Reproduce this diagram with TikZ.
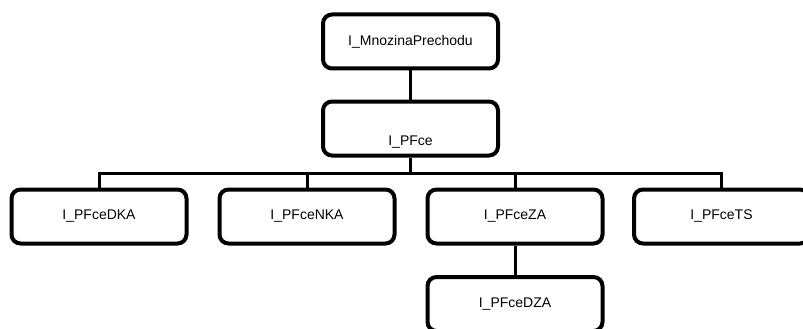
\documentclass[tikz,border=0pt]{standalone}
\usepackage{fontspec}
\setmainfont{Liberation Sans}
\begin{document}
\begin{tikzpicture}[x=1pt,y=-1pt,
  box/.style={draw=black, line width=4pt, rounded corners=9pt, fill=white,
    minimum width=175pt, minimum height=54pt, inner sep=0pt,
    font=\fontsize{14}{16}\selectfont},
  conn/.style={draw=black, line width=3pt}]
\useasboundingbox (0,0) rectangle (803,329);
\clip (0,0) rectangle (803,329);
\node[box] (mp) at (410.5,41.5) {I\_MnozinaPrechodu};
\node[box, text height=35pt, text depth=2pt] (pf) at (410.5,128.5) {I\_PFce};
\node[box] (dka) at (99,216.5) {I\_PFceDKA};
\node[box] (nka) at (307,216.5) {I\_PFceNKA};
\node[box] (za) at (515,216.5) {I\_PFceZA};
\node[box] (ts) at (721.5,216.5) {I\_PFceTS};
\node[box] (dza) at (515,304) {I\_PFceDZA};
\coordinate (bar) at (0,173);
\draw[conn] (mp.south) -- (pf.north);
\draw[conn] (pf.south) -- (pf.south |- bar);
\draw[conn] (dka.north) -- (dka.north |- bar) -- (ts.north |- bar) -- (ts.north);
\draw[conn] (nka.north) -- (nka.north |- bar);
\draw[conn] (za.north) -- (za.north |- bar);
\draw[conn] (za.south) -- (dza.north);
\end{tikzpicture}
\end{document}
